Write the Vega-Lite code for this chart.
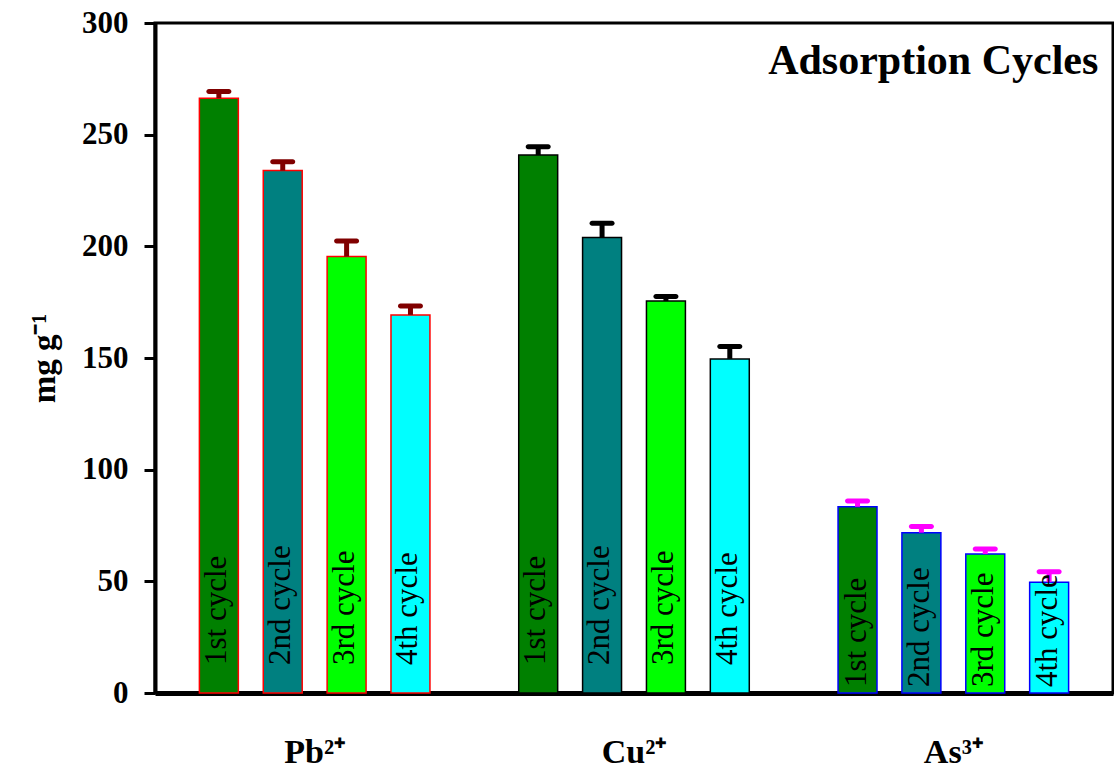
{
  "$schema": "https://vega.github.io/schema/vega-lite/v6.json",
  "autosize": {"type": "none"},
  "padding": {"left": 155, "top": 23, "right": 1, "bottom": 80},
  "width": 958,
  "height": 670,
  "background": "white",
  "config": {
    "view": {"stroke": "black", "strokeWidth": 3},
    "font": "Liberation Serif"
  },
  "datasets": {
    "cycles": [
      {"metal": "Pb²⁺", "cycle": "1st cycle", "value": 266.3, "upper": 269.3},
      {"metal": "Pb²⁺", "cycle": "2nd cycle", "value": 233.9, "upper": 237.9},
      {"metal": "Pb²⁺", "cycle": "3rd cycle", "value": 195.4, "upper": 202.4},
      {"metal": "Pb²⁺", "cycle": "4th cycle", "value": 169.3, "upper": 173.3},
      {"metal": "Cu²⁺", "cycle": "1st cycle", "value": 240.9, "upper": 244.6},
      {"metal": "Cu²⁺", "cycle": "2nd cycle", "value": 203.9, "upper": 210.3},
      {"metal": "Cu²⁺", "cycle": "3rd cycle", "value": 175.5, "upper": 177.5},
      {"metal": "Cu²⁺", "cycle": "4th cycle", "value": 149.6, "upper": 155.1},
      {"metal": "As³⁺", "cycle": "1st cycle", "value": 83.4, "upper": 86.0},
      {"metal": "As³⁺", "cycle": "2nd cycle", "value": 71.8, "upper": 74.5},
      {"metal": "As³⁺", "cycle": "3rd cycle", "value": 62.2, "upper": 64.5},
      {"metal": "As³⁺", "cycle": "4th cycle", "value": 49.6, "upper": 54.3}
    ]
  },
  "data": {"name": "cycles"},
  "encoding": {
    "x": {
      "field": "metal",
      "type": "nominal",
      "sort": ["Pb²⁺", "Cu²⁺", "As³⁺"],
      "scale": {"paddingInner": 0, "paddingOuter": 0},
      "axis": {
        "title": null,
        "orient": "bottom",
        "ticks": false,
        "tickSize": 0,
        "labelAngle": 0,
        "labelPadding": 42,
        "labelFont": "Liberation Serif",
        "labelFontSize": 34,
        "labelFontWeight": "bold",
        "labelColor": "black",
        "domainColor": "black",
        "domainWidth": 5
      }
    },
    "y": {
      "field": "value",
      "type": "quantitative",
      "scale": {"domain": [0, 300], "nice": false},
      "axis": {
        "title": "mg g⁻¹",
        "titleFont": "Liberation Serif",
        "titleFontSize": 33,
        "titleFontWeight": "bold",
        "titleColor": "black",
        "titlePadding": 20,
        "values": [0, 50, 100, 150, 200, 250, 300],
        "grid": false,
        "labelFont": "Liberation Serif",
        "labelFontSize": 31,
        "labelFontWeight": "bold",
        "labelColor": "black",
        "labelPadding": 16,
        "tickColor": "black",
        "tickWidth": 3,
        "tickSize": 11,
        "domainColor": "black",
        "domainWidth": 4
      }
    }
  },
  "layer": [
    {
      "mark": {"type": "bar", "strokeWidth": 1.5},
      "encoding": {
        "xOffset": {
          "field": "cycle",
          "type": "nominal",
          "sort": ["1st cycle", "2nd cycle", "3rd cycle", "4th cycle"],
          "scale": {"paddingInner": 0.39, "paddingOuter": 0.695}
        },
        "fill": {
          "field": "cycle",
          "type": "nominal",
          "scale": {
            "domain": ["1st cycle", "2nd cycle", "3rd cycle", "4th cycle"],
            "range": ["#008000", "#008080", "#00ff00", "#00ffff"]
          },
          "legend": null
        },
        "stroke": {
          "field": "metal",
          "type": "nominal",
          "scale": {
            "domain": ["Pb²⁺", "Cu²⁺", "As³⁺"],
            "range": ["#ff0000", "#000000", "#0000ff"]
          },
          "legend": null
        }
      }
    },
    {
      "mark": {"type": "rule", "strokeWidth": 5},
      "encoding": {
        "xOffset": {"field": "cycle", "type": "nominal", "sort": ["1st cycle", "2nd cycle", "3rd cycle", "4th cycle"]},
        "y": {"field": "value", "type": "quantitative"},
        "y2": {"field": "upper"},
        "color": {
          "field": "metal",
          "type": "nominal",
          "scale": {
            "domain": ["Pb²⁺", "Cu²⁺", "As³⁺"],
            "range": ["#800000", "#000000", "#ff00ff"]
          },
          "legend": null
        }
      }
    },
    {
      "mark": {"type": "tick", "orient": "horizontal", "size": 25, "thickness": 5, "cornerRadius": 2.5, "opacity": 1},
      "encoding": {
        "xOffset": {"field": "cycle", "type": "nominal", "sort": ["1st cycle", "2nd cycle", "3rd cycle", "4th cycle"]},
        "y": {"field": "upper", "type": "quantitative"},
        "color": {"field": "metal", "type": "nominal", "legend": null}
      }
    },
    {
      "transform": [{"filter": "datum.metal !== 'As³⁺'"}],
      "mark": {"type": "text", "angle": 270, "align": "left", "baseline": "middle", "dx": 28, "dy": -2, "fontSize": 31, "font": "Liberation Serif", "color": "black"},
      "encoding": {
        "xOffset": {"field": "cycle", "type": "nominal", "sort": ["1st cycle", "2nd cycle", "3rd cycle", "4th cycle"]},
        "y": {"datum": 0},
        "text": {"field": "cycle"}
      }
    },
    {
      "transform": [{"filter": "datum.metal === 'As³⁺'"}],
      "mark": {"type": "text", "angle": 270, "align": "left", "baseline": "middle", "dx": 6, "dy": -1, "fontSize": 31, "font": "Liberation Serif", "color": "black"},
      "encoding": {
        "xOffset": {"field": "cycle", "type": "nominal", "sort": ["1st cycle", "2nd cycle", "3rd cycle", "4th cycle"]},
        "y": {"datum": 0},
        "text": {"field": "cycle"}
      }
    },
    {
      "transform": [{"filter": "datum.metal === 'As³⁺' && datum.cycle === '4th cycle'"}],
      "mark": {"type": "text", "text": "Adsorption Cycles", "align": "right", "baseline": "alphabetic", "dx": 145, "fontSize": 42, "fontWeight": "bold", "font": "Liberation Serif", "color": "black"},
      "encoding": {
        "y": {"datum": 277}
      }
    }
  ]
}
